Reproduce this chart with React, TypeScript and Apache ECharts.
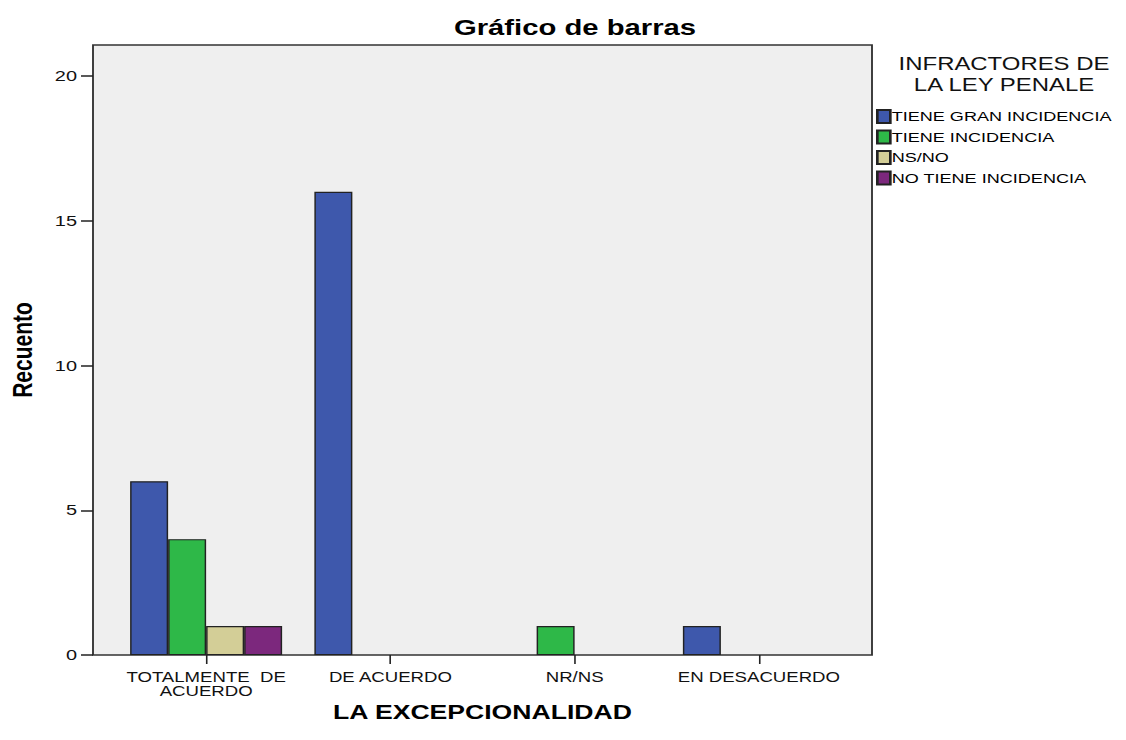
import React, { useEffect, useRef } from "react";
import * as echarts from "echarts";

const categories = ["TOTALMENTE DE ACUERDO", "DE ACUERDO", "NR/NS", "EN DESACUERDO"];
const seriesNames = ["TIENE GRAN INCIDENCIA", "TIENE INCIDENCIA", "NS/NO", "NO TIENE INCIDENCIA"];
const granIncidencia = [6, 16, null, 1];
const incidencia = [4, null, 1, null];
const nsNo = [1, null, null, null];
const noIncidencia = [1, null, null, null];
const seriesValues = [granIncidencia, incidencia, nsNo, noIncidencia];
const colors = ["#3E58AC", "#2EB848", "#D3CE97", "#7C287D"];
const yMin = 0;
const yMax = 20;
const yStep = 5;

const FONT = 'Arial, "Liberation Sans", Helvetica, sans-serif';

// The reference picture is horizontally stretched; the chart is laid out in an
// inner width and stretched to the page width with a CSS scaleX.
const PAGE_W = 1126;
const PAGE_H = 740;
const INNER_W = 847;
const S = PAGE_W / INNER_W;
const X = (v: number) => v / S;

export default function App() {
  const ref = useRef<HTMLDivElement>(null);
  useEffect(() => {
    if (!ref.current) return;
    const chart = echarts.init(ref.current, null, { renderer: "svg" });
    chart.setOption({
      animation: false,
      backgroundColor: "#ffffff",
      textStyle: { fontFamily: FONT },
      title: {
        text: "Gráfico de barras",
        left: X(575),
        top: 16,
        padding: 0,
        textAlign: "center",
        textStyle: { fontSize: 22, fontWeight: "bold", color: "#000", fontFamily: FONT },
      },
      legend: {
        orient: "vertical",
        left: X(876),
        top: 108.5,
        padding: 0,
        itemWidth: X(13),
        itemHeight: 13,
        itemGap: 4.5,
        icon: "rect",
        selectedMode: false,
        data: seriesNames,
        textStyle: { fontSize: 13.6, color: "#000", lineHeight: 16, fontFamily: FONT, padding: [0, 0, 0, -4] },
      },
      grid: { left: X(114), right: X(275), top: 76, bottom: 85 },
      xAxis: {
        type: "category",
        data: categories,
        axisLine: { show: false },
        axisTick: { show: true, alignWithLabel: true, length: 9, lineStyle: { color: "#222", width: 1.2 } },
        axisLabel: {
          margin: 15,
          fontSize: 14,
          lineHeight: 14,
          color: "#111",
          interval: 0,
          formatter: (v: string) => v.replace("TOTALMENTE DE ", "TOTALMENTE  DE\n"),
        },
        name: "LA EXCEPCIONALIDAD",
        nameLocation: "middle",
        nameGap: 47,
        nameMoveOverlap: false,
        nameTextStyle: { fontSize: 20, fontWeight: "bold", color: "#000", fontFamily: FONT },
      },
      yAxis: {
        type: "value",
        min: yMin,
        max: yMax,
        interval: yStep,
        offset: X(21),
        axisLine: { show: false },
        axisTick: { show: true, length: X(12), lineStyle: { color: "#222", width: 1.5 } },
        axisLabel: { margin: X(16), fontSize: 15, color: "#111" },
        splitLine: { show: false },
      },
      graphic: [
        {
          type: "rect",
          z: 0,
          silent: true,
          shape: { x: X(93), y: 45, width: X(779), height: 610 },
          style: { fill: "#EFEFEF", stroke: "#333", lineWidth: 1.4 },
        },
        {
          type: "text",
          x: X(1004),
          y: 53,
          silent: true,
          style: {
            text: "INFRACTORES DE\nLA LEY PENALE",
            align: "center",
            textAlign: "center",
            verticalAlign: "top",
            fontSize: 18,
            lineHeight: 21,
            fontFamily: FONT,
            fill: "#111",
          },
        },
        {
          type: "text",
          x: X(22),
          y: 350,
          rotation: Math.PI / 2,
          silent: true,
          style: {
            text: "Recuento",
            align: "center",
            textAlign: "center",
            verticalAlign: "middle",
            textVerticalAlign: "middle",
            fontSize: 21,
            fontWeight: "bold",
            fontFamily: FONT,
            fill: "#000",
          },
        },
      ],
      series: seriesNames.map((name, i) => ({
        name,
        type: "bar",
        data: seriesValues[i],
        barWidth: X(38),
        barGap: "0%",
        itemStyle: { color: colors[i], borderColor: "#222", borderWidth: 1.1 },
      })),
    });
    return () => chart.dispose();
  }, []);
  return (
    <div
      style={{ position: "absolute", left: 0, top: 0, width: PAGE_W, height: PAGE_H, overflow: "hidden", background: "#fff" }}
    >
      <div
        ref={ref}
        style={{
          width: INNER_W,
          height: PAGE_H,
          transform: `scaleX(${S})`,
          transformOrigin: "0 0",
        }}
      />
    </div>
  );
}
